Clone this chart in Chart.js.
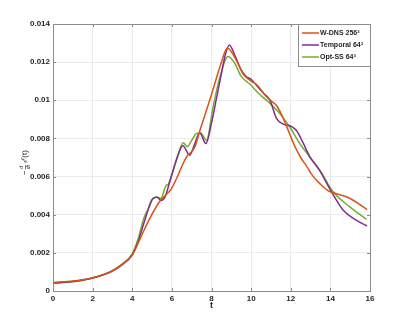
<!DOCTYPE html>
<html><head><meta charset="utf-8">
<script src="https://cdn.jsdelivr.net/npm/chart.js@4.4.1/dist/chart.umd.min.js"></script>
<style>html,body{margin:0;padding:0;background:#fff;overflow:hidden}</style>
</head><body>
<canvas id="c" width="409" height="327"></canvas>
<script>
const xTicks = [0, 2, 4, 6, 8, 10, 12, 14, 16];
const yTicks = [0, 0.002, 0.004, 0.006, 0.008, 0.010, 0.012, 0.014];
const seriesNames = ['W-DNS 256³', 'Temporal 64³', 'Opt-SS 64³'];
const seriesColors = ['#D95319', '#7E2F8E', '#77AC30'];

const wdnsT = [0, 1, 2, 3, 3.5, 4, 4.4, 4.88, 5.4, 5.98, 6.74, 7.16, 7.41, 8.0, 8.5, 8.8, 9.2, 9.6, 9.93, 10.3, 10.78, 11.03, 11.3, 11.6, 11.9, 12.2, 12.5, 12.8, 13.1, 13.5, 13.9, 14.3, 14.7, 15.0, 15.4, 15.85];
const wdnsV = [0.00045, 0.00052, 0.0007, 0.00107, 0.0014, 0.00188, 0.00275, 0.0038, 0.00472, 0.00537, 0.00703, 0.00755, 0.0084, 0.0103, 0.0120, 0.01274, 0.0122, 0.01137, 0.01105, 0.0108, 0.01018, 0.00995, 0.0097, 0.0091, 0.00835, 0.0076, 0.0070, 0.00655, 0.00605, 0.0056, 0.00525, 0.0051, 0.00498, 0.00485, 0.0046, 0.00427];

const temporalT = [0, 1, 2, 3, 3.5, 4, 4.3, 4.6, 4.85, 5.05, 5.25, 5.45, 5.65, 5.9, 6.3, 6.55, 6.9, 7.15, 7.4, 7.72, 8.0, 8.25, 8.5, 8.7, 8.9, 9.2, 9.5, 9.75, 10.0, 10.3, 10.6, 10.95, 11.28, 11.62, 12.05, 12.3, 12.63, 12.96, 13.47, 14.0, 14.65, 15.3, 15.85];
const temporalV = [0.00042, 0.0005, 0.00068, 0.00105, 0.00138, 0.0019, 0.0026, 0.0036, 0.0044, 0.00485, 0.00492, 0.00475, 0.00492, 0.00575, 0.0071, 0.00762, 0.00712, 0.0077, 0.0083, 0.00773, 0.0088, 0.0101, 0.0114, 0.0124, 0.0129, 0.0123, 0.0116, 0.01125, 0.0111, 0.01075, 0.0104, 0.0100, 0.00905, 0.00875, 0.00862, 0.0084, 0.00775, 0.00705, 0.0063, 0.0053, 0.00423, 0.00372, 0.00341];

const optssT = [0, 1, 2, 3, 3.5, 4, 4.3, 4.58, 4.8, 4.97, 5.22, 5.45, 5.64, 5.73, 5.82, 5.95, 6.23, 6.57, 6.78, 7.0, 7.24, 7.45, 7.75, 8.08, 8.42, 8.84, 9.18, 9.5, 9.93, 10.44, 10.94, 11.45, 11.95, 12.46, 12.96, 13.47, 14.14, 14.98, 15.83];
const optssV = [0.0004, 0.00048, 0.00068, 0.00107, 0.00142, 0.00195, 0.00275, 0.0038, 0.0043, 0.00476, 0.00493, 0.00485, 0.00537, 0.00555, 0.0056, 0.00595, 0.00686, 0.00777, 0.00757, 0.0079, 0.00826, 0.00828, 0.0079, 0.00965, 0.0112, 0.0123, 0.01193, 0.01125, 0.01085, 0.0103, 0.00985, 0.0093, 0.0086, 0.00773, 0.00703, 0.00633, 0.0052, 0.00441, 0.00375];

const seriesT = [wdnsT, temporalT, optssT];
const seriesV = [wdnsV, temporalV, optssV];

const AXIS_COLOR = '#8c8c8c';
const TEXT_COLOR = '#262626';
const FONT = 'Liberation Sans, Arial, sans-serif';

const decor = {
  id: 'decor',
  afterDraw(chart) {
    const ctx = chart.ctx, a = chart.chartArea;
    const xs = chart.scales.x, ys = chart.scales.y;
    ctx.save();
    // box
    ctx.strokeStyle = AXIS_COLOR; ctx.lineWidth = 1;
    ctx.strokeRect(Math.round(a.left) + 0.5, Math.round(a.top) + 0.5, Math.round(a.right - a.left), Math.round(a.bottom - a.top));
    // inward ticks
    ctx.beginPath();
    xTicks.forEach(v => {
      const x = Math.round(xs.getPixelForValue(v)) + 0.5;
      ctx.moveTo(x, a.bottom); ctx.lineTo(x, a.bottom - 3);
      ctx.moveTo(x, a.top); ctx.lineTo(x, a.top + 3);
    });
    yTicks.forEach(v => {
      const y = Math.round(ys.getPixelForValue(v)) + 0.5;
      ctx.moveTo(a.left, y); ctx.lineTo(a.left + 3, y);
      ctx.moveTo(a.right, y); ctx.lineTo(a.right - 3, y);
    });
    ctx.stroke();
    // x title
    ctx.fillStyle = TEXT_COLOR;
    ctx.font = 'bold 9px ' + FONT;
    ctx.textAlign = 'center'; ctx.textBaseline = 'middle';
    ctx.fillText('t', (a.left + a.right) / 2, 306);
    // y title (rotated) : − d/dt ℰ(t)
    ctx.save();
    ctx.translate(25, 157);
    ctx.rotate(-Math.PI / 2);
    ctx.textBaseline = 'middle';
    ctx.textAlign = 'left';
    ctx.font = '8px ' + FONT;
    let x0 = -18;
    ctx.fillText('−', x0, 0); x0 += ctx.measureText('−').width + 1;
    ctx.font = 'italic 5px ' + FONT;
    const wf = ctx.measureText('dt').width;
    ctx.textAlign = 'center';
    ctx.fillText('d', x0 + wf / 2, -3);
    ctx.fillText('dt', x0 + wf / 2, 3.5);
    ctx.fillRect(x0, 0, wf, 0.6);
    x0 += wf + 2;
    ctx.textAlign = 'left';
    ctx.font = 'italic 8px ' + FONT;
    ctx.fillText('ℰ', x0, 0); x0 += ctx.measureText('ℰ').width + 0.5;
    ctx.font = '8px ' + FONT;
    ctx.fillText('(t)', x0, 0);
    ctx.restore();
    // legend
    const lx = 298.5, ly = 24.5, lw = 72, lh = 42;
    ctx.fillStyle = '#fff';
    ctx.fillRect(lx, ly, lw, lh);
    ctx.strokeStyle = AXIS_COLOR;
    ctx.strokeRect(lx, ly, lw, lh);
    ctx.font = 'bold 7px ' + FONT;
    ctx.textAlign = 'left'; ctx.textBaseline = 'middle';
    seriesNames.forEach((n, i) => {
      const y = 33 + i * 12;
      ctx.strokeStyle = seriesColors[i]; ctx.lineWidth = 1.5;
      ctx.beginPath(); ctx.moveTo(302, y); ctx.lineTo(319, y); ctx.stroke();
      ctx.fillStyle = TEXT_COLOR;
      ctx.fillText(n, 320, y);
    });
    ctx.restore();
  }
};

new Chart(document.getElementById('c'), {
  type: 'line',
  data: {
    datasets: seriesNames.map((n, i) => ({
      label: n,
      data: seriesT[i].map((t, j) => ({ x: t, y: seriesV[i][j] })),
      borderColor: seriesColors[i],
      backgroundColor: seriesColors[i],
      borderWidth: 1.5,
      pointRadius: 0,
      cubicInterpolationMode: 'monotone',
      fill: false
    }))
  },
  options: {
    responsive: false,
    animation: false,
    devicePixelRatio: 1,
    layout: { padding: { left: 0, top: 24, right: 39, bottom: 0 } },
    plugins: { legend: { display: false }, tooltip: { enabled: false } },
    scales: {
      x: {
        type: 'linear', min: 0, max: 16,
        afterBuildTicks: s => { s.ticks = xTicks.map(v => ({ value: v })); },
        afterFit: s => { s.height = 36; },
        grid: { color: '#ebebeb', drawTicks: false },
        border: { display: false },
        ticks: { autoSkip: false, maxRotation: 0, padding: 3, color: TEXT_COLOR, font: { family: FONT, size: 8, weight: 'bold' } }
      },
      y: {
        type: 'linear', min: 0, max: 0.014,
        afterBuildTicks: s => { s.ticks = yTicks.map(v => ({ value: v })); },
        afterFit: s => { s.width = 53; },
        grid: { color: '#ebebeb', drawTicks: false },
        border: { display: false },
        ticks: { autoSkip: false, padding: 3, color: TEXT_COLOR, font: { family: FONT, size: 8, weight: 'bold' },
          callback: v => String(+v.toFixed(3)) }
      }
    }
  },
  plugins: [decor]
});
</script>
</body></html>
